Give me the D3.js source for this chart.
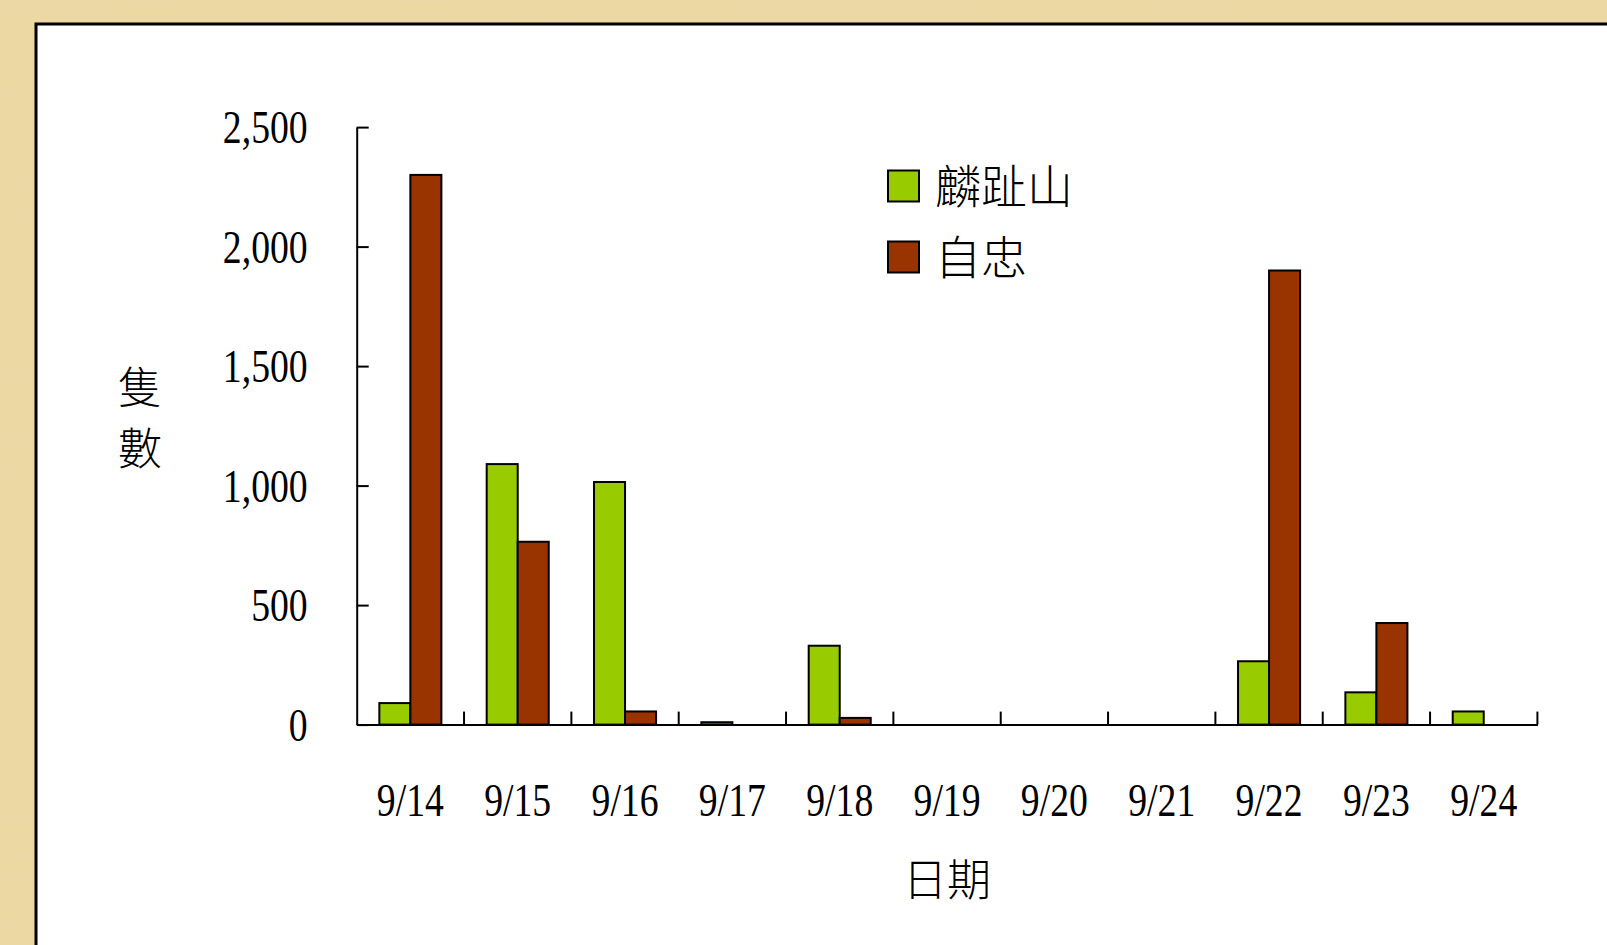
<!DOCTYPE html>
<html><head><meta charset="utf-8">
<script src="https://cdn.jsdelivr.net/npm/d3@7"></script>
<style>html,body{margin:0;padding:0;background:#e9d49e;overflow:hidden}</style>
</head><body><svg id="c" width="1607" height="945"></svg>
<script>
const categories = ["9/14","9/15","9/16","9/17","9/18","9/19","9/20","9/21","9/22","9/23","9/24"];
const seriesNames = ["麟趾山","自忠"];
const linzhishan = [90,1090,1015,10,330,0,0,0,265,135,55];
const zizhong = [2300,765,55,0,28,0,0,0,1900,425,0];
const yTicks = [0,500,1000,1500,2000,2500];
const seriesColors = ["#99cc00","#993300"];
const yTitle = ["隻","數"];
const xTitle = "日期";

const svg = d3.select("#c");
const W = 1607, H = 945;
const L = 356.7, R = 1537.4, T = 127.1, B = 724.6;
const serif = "'Liberation Serif','Times New Roman',serif";
const cjk = "'Noto Sans CJK TC','Noto Sans CJK SC',sans-serif";

// parchment background
const defs = svg.append("defs");
const f = defs.append("filter").attr("id","paper").attr("x",0).attr("y",0).attr("width","100%").attr("height","100%");
f.append("feTurbulence").attr("type","fractalNoise").attr("baseFrequency","0.004 0.06").attr("numOctaves",3).attr("seed",4).attr("result","n");
f.append("feColorMatrix").attr("in","n").attr("type","matrix")
  .attr("values","0 0 0 0 0.80  0 0 0 0 0.68  0 0 0 0 0.40  0.45 0 0 0 -0.1").attr("result","c");
f.append("feComposite").attr("in","c").attr("in2","SourceGraphic").attr("operator","over");
svg.append("rect").attr("width",W).attr("height",H).attr("fill","#ecd8a3").attr("filter","url(#paper)");

// white panel
svg.append("rect").attr("x",36).attr("y",24).attr("width",W).attr("height",H)
  .attr("fill","#fff").attr("stroke","#000").attr("stroke-width",3);

const x = d3.scaleBand().domain(categories).range([L,R]).paddingInner(0).paddingOuter(0);
const xs = d3.scaleBand().domain(seriesNames).range([0,x.bandwidth()]).paddingInner(0).paddingOuter(0.73);
const y = d3.scaleLinear().domain([0,2500]).range([B,T]);

const data = categories.map((c,i)=>({c, vals:[linzhishan[i], zizhong[i]]}));

// bars
const g = svg.append("g");
data.forEach(d=>{
  d.vals.forEach((v,j)=>{
    if (v<=0) return;
    g.append("rect")
      .attr("x", x(d.c)+xs(seriesNames[j]))
      .attr("y", y(v))
      .attr("width", xs.bandwidth())
      .attr("height", y(0)-y(v))
      .attr("fill", seriesColors[j])
      .attr("stroke","#000").attr("stroke-width",2);
  });
});

// y axis
const ya = svg.append("g").attr("transform",`translate(${L},0)`)
  .call(d3.axisLeft(y).tickValues(yTicks).tickSizeInner(-12).tickSizeOuter(0).tickFormat(d3.format(",")));
ya.select(".domain").attr("stroke","#000").attr("stroke-width",2);
ya.selectAll(".tick line").attr("stroke","#000").attr("stroke-width",2);
ya.selectAll(".tick text").attr("x",0).attr("dy","0.34em")
  .attr("transform","translate(-49,0) scale(0.82,1)")
  .attr("font-family",serif).attr("font-size",46).attr("fill","#000");

// x axis
const xa = svg.append("g").attr("transform",`translate(0,${B})`)
  .call(d3.axisBottom(x).tickSize(0).tickSizeOuter(0));
xa.select(".domain").attr("stroke","#000").attr("stroke-width",2);
xa.selectAll(".tick text").attr("y",0).attr("dy",0)
  .attr("transform","translate(0,91) scale(0.82,1)")
  .attr("font-family",serif).attr("font-size",46).attr("fill","#000");
const bounds = categories.map(c=>x(c)).concat([x.range()[1]]).slice(1);
xa.selectAll(".btick").data(bounds).join("line").attr("class","btick")
  .attr("x1",d=>d).attr("x2",d=>d).attr("y1",0).attr("y2",-13)
  .attr("stroke","#000").attr("stroke-width",2);

// axis titles
svg.selectAll(".yt").data(yTitle).join("text").attr("class","yt")
  .attr("x",140).attr("y",(d,i)=>388+i*61).attr("dy","0.36em")
  .attr("text-anchor","middle").attr("font-family",cjk).attr("font-size",44).attr("font-weight",300)
  .attr("fill","#000").text(d=>d);
svg.append("text").attr("x",947).attr("y",880).attr("dy","0.36em")
  .attr("text-anchor","middle").attr("font-family",cjk).attr("font-size",44).attr("font-weight",300)
  .attr("fill","#000").text(xTitle);

// legend
const lg = svg.append("g");
seriesNames.forEach((s,i)=>{
  const cy = 186 + i*71;
  lg.append("rect").attr("x",888).attr("y",cy-15.5).attr("width",31).attr("height",31)
    .attr("fill",seriesColors[i]).attr("stroke","#000").attr("stroke-width",2);
  lg.append("text").attr("x",935).attr("y",cy).attr("dy","0.36em")
    .attr("font-family",cjk).attr("font-size",46).attr("font-weight",300).attr("fill","#000").text(s);
});
</script></body></html>
